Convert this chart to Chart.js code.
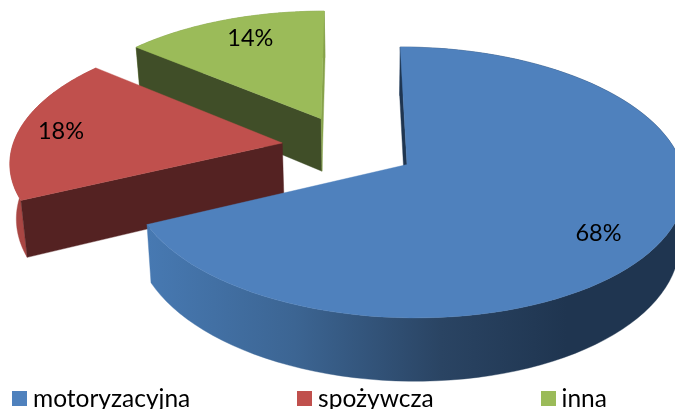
<!DOCTYPE html>
<html>
<head>
<meta charset="utf-8">
<style>html,body{margin:0;padding:0;background:#fff;overflow:hidden}canvas{display:block}</style>
<script src="https://cdn.jsdelivr.net/npm/chart.js@4"></script>
</head>
<body>
<canvas id="c" width="675" height="409"></canvas>
<script>
const categories = ['motoryzacyjna', 'spożywcza', 'inna'];
const shares = [68, 18, 14];
const topColors = ['#4F81BD', '#C0504D', '#9BBB59'];
const startCutColors = ['#1F3550', '#542222', '#404E28'];
const endCutColors = ['#1F3550', '#542222', '#86A24A'];
const rimStops = [
  [[0, '#4779B2'], [0.35, '#3C6593'], [0.7, '#2A4463'], [1, '#1F3550']],
  [[0, '#A94643'], [1, '#A94643']],
  [[0, '#7F9A48'], [1, '#7F9A48']]
];
const labelReach = [0.8, 0.84, 0.78];
const labelTurn = [0.08, -0.02, 0.04];

// Oblique projection of the pie's ground plane with perspective
const view = {x0: 349, y0: 147, ax: 270, by: 128.5, k: 0.13, depth: 54, xc: 370, shrink: 0.982, explode: 0.25};
function project(u, v, low) {
  const w = 1 - view.k * v;
  let x = view.x0 + view.ax * u / w;
  let y = view.y0 + view.by * v / w;
  if (low) { x = view.xc + (x - view.xc) * view.shrink; y += view.depth / w; }
  return [x, y];
}
function poly(ctx, pts, fill) {
  ctx.beginPath();
  pts.forEach((p, i) => i ? ctx.lineTo(p[0], p[1]) : ctx.moveTo(p[0], p[1]));
  ctx.closePath();
  ctx.fillStyle = fill;
  ctx.fill();
  ctx.strokeStyle = fill;
  ctx.lineWidth = 0.4;
  ctx.stroke();
}
function area(pts) {
  let s = 0;
  pts.forEach((p, i) => { const q = pts[(i + 1) % pts.length]; s += p[0] * q[1] - q[0] * p[1]; });
  return s;
}

const pie3d = {
  id: 'pie3d',
  beforeDatasetsDraw(chart) {
    const ctx = chart.ctx;
    const arcs = chart.getDatasetMeta(0).data;
    const total = shares.reduce((a, b) => a + b, 0);
    ctx.save();
    // Far slices first
    [2, 1, 0].forEach(i => {
      const el = arcs[i];
      const s = el.startAngle, e = el.endAngle, m = (s + e) / 2;
      const cu = view.explode * Math.cos(m), cv = view.explode * Math.sin(m);
      const n = 96, rim = [];
      for (let j = 0; j <= n; j++) {
        const a = s + (e - s) * j / n;
        rim.push([cu + Math.cos(a), cv + Math.sin(a)]);
      }
      const top = rim.map(p => project(p[0], p[1], false));
      const low = rim.map(p => project(p[0], p[1], true));
      const apexT = project(cu, cv, false), apexL = project(cu, cv, true);

      const xs = top.map(p => p[0]);
      const g = ctx.createLinearGradient(Math.min(...xs), 0, Math.min(...xs) + 420, 0);
      rimStops[i].forEach(st => g.addColorStop(st[0], st[1]));
      poly(ctx, top.concat(low.slice().reverse()), g);

      const startFace = [apexT, top[0], low[0], apexL];
      const endFace = [apexT, top[n], low[n], apexL];
      if (area(startFace) < 0) poly(ctx, startFace, startCutColors[i]);
      if (area(endFace) > 0) poly(ctx, endFace, endCutColors[i]);
      poly(ctx, [apexT].concat(top), el.options.backgroundColor);
    });
    // Percentage labels
    ctx.fillStyle = '#000';
    ctx.font = '23.5px Lato';
    ctx.textAlign = 'center';
    ctx.textBaseline = 'middle';
    arcs.forEach((el, i) => {
      const m = (el.startAngle + el.endAngle) / 2;
      const t = m + labelTurn[i];
      const u = view.explode * Math.cos(m) + labelReach[i] * Math.cos(t);
      const v = view.explode * Math.sin(m) + labelReach[i] * Math.sin(t);
      const p = project(u, v, false);
      ctx.fillText(Math.round(shares[i] / total * 100) + '%', p[0], p[1]);
    });
    ctx.restore();
    return false;
  }
};

function swatch(color) {
  const c = document.createElement('canvas');
  c.width = 15; c.height = 15;
  const x = c.getContext('2d');
  x.fillStyle = color;
  x.fillRect(0, 0, 15, 15);
  return c;
}

new Chart(document.getElementById('c'), {
  type: 'pie',
  data: {
    labels: categories,
    datasets: [{data: shares, backgroundColor: topColors, borderWidth: 0, offset: 30}]
  },
  plugins: [pie3d],
  options: {
    responsive: false,
    animation: false,
    layout: {padding: {left: -94.75, right: -200, bottom: -12}},
    plugins: {
      tooltip: {enabled: false},
      legend: {
        position: 'bottom',
        align: 'start',
        labels: {
          usePointStyle: true,
          boxWidth: 2.5,
          padding: 113,
          color: '#000',
          font: {family: 'Lato', size: 24.5},
          generateLabels: () => categories.map((t, i) => ({
            text: t, fillStyle: topColors[i], strokeStyle: topColors[i], lineWidth: 0,
            pointStyle: swatch(topColors[i]), index: i, hidden: false
          }))
        }
      }
    }
  }
});
</script>
</body>
</html>
